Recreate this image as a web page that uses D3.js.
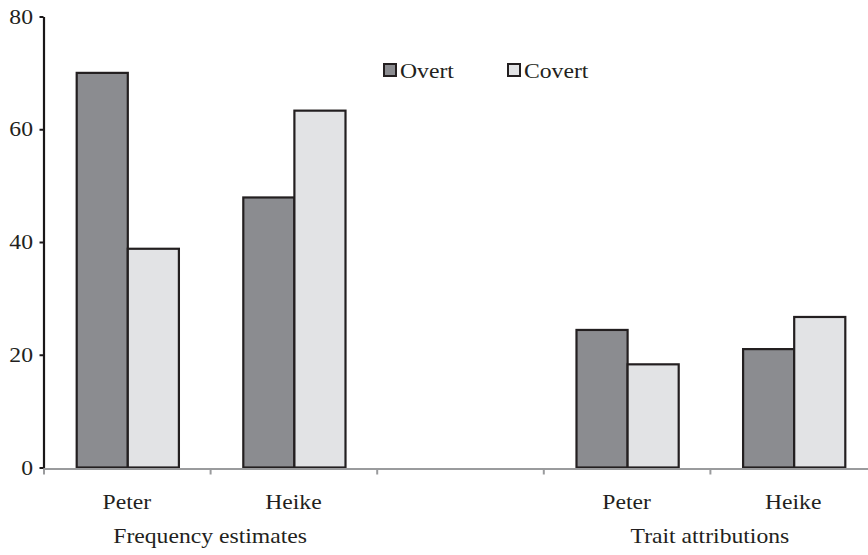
<!DOCTYPE html>
<html>
<head>
<meta charset="utf-8">
<script src="https://cdn.jsdelivr.net/npm/d3@7"></script>
<style>
  html, body { margin: 0; padding: 0; background: #fff; }
  svg { display: block; }
  text { font-family: "Liberation Serif", "Times New Roman", serif; fill: #231f20; }
</style>
</head>
<body>
<svg id="chart" width="868" height="555"></svg>
<script>
// Measure groups and the person within each group
const groups = ["Frequency estimates", "Trait attributions"];
const people = ["Peter", "Heike"];
const series = ["Overt", "Covert"];
// Values per group/person, in order: freq Peter, freq Heike, trait Peter, trait Heike
const overt  = [70, 47.9, 24.4, 21.0];
const covert = [38.8, 63.3, 18.3, 26.7];
const yTicks = [0, 20, 40, 60, 80];

const colors = { Overt: "#8b8c90", Covert: "#e2e3e5" };
const stroke = "#231f20";

// Slots along the x axis: two people per group with an empty slot between groups
const slots = [];
groups.forEach((g, gi) => {
  if (gi > 0) slots.push({ key: "gap" + gi, empty: true });
  people.forEach(p => slots.push({ key: g + "|" + p, group: g, person: p }));
});
const rows = [];
let k = 0;
slots.forEach(s => {
  if (s.empty) return;
  rows.push({ key: s.key, group: s.group, person: s.person, Overt: overt[k], Covert: covert[k] });
  k++;
});

const svg = d3.select("#chart");
const plot = { left: 43.5, right: 876.5, top: 16.5, bottom: 467.5 };

const x0 = d3.scaleBand().domain(slots.map(s => s.key)).range([plot.left, plot.right]).paddingInner(0).paddingOuter(0);
const x1 = d3.scaleBand().domain(series).range([0, x0.bandwidth()]).paddingInner(0).paddingOuter(0.63);
const y = d3.scaleLinear().domain([0, 80]).range([plot.bottom, plot.top]);

// Horizontal stretch of serif type
const sx = 1.1;
const fs = 21.5;
function label(sel, x, yy, txt, anchor) {
  sel.append("text")
    .attr("transform", `translate(${x},${yy}) scale(${sx},1)`)
    .attr("text-anchor", anchor)
    .attr("font-size", fs)
    .text(txt);
}

// Bars
const g = svg.append("g");
rows.forEach(r => {
  series.forEach(s => {
    g.append("rect")
      .attr("x", x0(r.key) + x1(s) + 1)
      .attr("y", y(r[s]))
      .attr("width", x1.bandwidth())
      .attr("height", y(0) - y(r[s]))
      .attr("fill", colors[s])
      .attr("stroke", stroke)
      .attr("stroke-width", 2.2);
  });
});

// X axis: ticks on slot boundaries
const xEdge = d3.scaleLinear().domain([0, slots.length]).range([plot.left, plot.right]);
const xAxis = svg.append("g")
  .attr("transform", `translate(0,${plot.bottom + 1})`)
  .call(d3.axisBottom(xEdge).tickValues(d3.range(0, slots.length)).tickFormat("").tickSize(6).tickSizeOuter(0));
xAxis.select(".domain").attr("stroke", "#9a9b9d").attr("stroke-width", 2.2);
xAxis.selectAll(".tick line").attr("stroke", "#9a9b9d").attr("stroke-width", 2);

// Y axis
const yAxis = svg.append("g")
  .attr("transform", `translate(${plot.left},0)`)
  .call(d3.axisLeft(y).tickValues(yTicks).tickSize(4).tickSizeOuter(0).tickFormat(d3.format("d")));
yAxis.select(".domain").attr("stroke", "#1a1718").attr("stroke-width", 2.2);
yAxis.selectAll(".tick line").attr("stroke", "#1a1718").attr("stroke-width", 2);
yAxis.selectAll(".tick text").remove();
yTicks.forEach(t => label(svg, 33, y(t) + 7, String(t), "end"));

// Category labels
rows.forEach(r => label(svg, x0(r.key) + x0.bandwidth() / 2, 509, r.person, "middle"));
groups.forEach(gr => {
  const keys = rows.filter(r => r.group === gr).map(r => r.key);
  const cx = (x0(keys[0]) + x0(keys[keys.length - 1]) + x0.bandwidth()) / 2;
  label(svg, cx, 543, gr, "middle");
});

// Legend
const legendX = [383, 507];
series.forEach((s, i) => {
  svg.append("rect")
    .attr("x", legendX[i] + 1)
    .attr("y", 64)
    .attr("width", 12)
    .attr("height", 12)
    .attr("fill", colors[s])
    .attr("stroke", stroke)
    .attr("stroke-width", 2);
  label(svg, legendX[i] + 17, 78, s, "start");
});
</script>
</body>
</html>
